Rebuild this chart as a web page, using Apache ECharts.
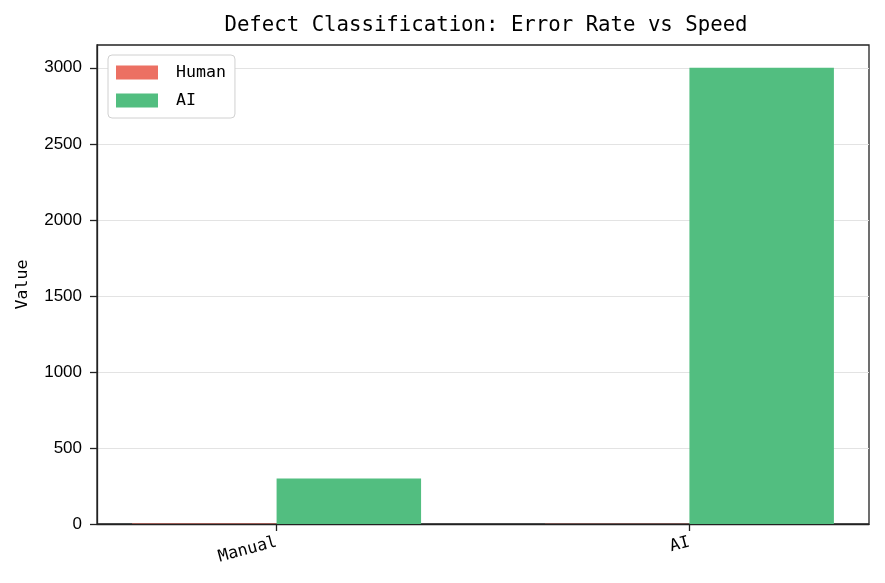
<!DOCTYPE html>
<html><head><meta charset="utf-8">
<script src="https://cdn.jsdelivr.net/npm/echarts@6/dist/echarts.min.js"></script>
<style>html,body{margin:0;padding:0;background:#fff}#c{width:885px;height:583px}</style>
</head><body><div id="c"></div>
<script>
const categories = ['Manual', 'AI'];
const seriesNames = ['Human', 'AI'];
const humanValues = [3, 1];
const aiValues = [300, 3000];
const yTicks = [0, 500, 1000, 1500, 2000, 2500, 3000];

const BW = 0.35;
const mono = 'DejaVu Sans Mono';
function makeSeries(name, values, offset, color) {
  return {
    name: name, type: 'custom',
    itemStyle: { color: color },
    encode: { x: 0, y: 1 },
    data: values.map((v, i) => [i, v]),
    renderItem: function (params, api) {
      const i = api.value(0), v = api.value(1);
      const p0 = api.coord([i + offset, v]);
      const p1 = api.coord([i + offset + BW, 0]);
      return { type: 'rect', shape: { x: p0[0], y: p0[1], width: p1[0] - p0[0], height: p1[1] - p0[1] },
        style: { fill: color } };
    }
  };
}
const chart = echarts.init(document.getElementById('c'));
chart.setOption({
  animation: false,
  title: { text: 'Defect Classification: Error Rate vs Speed', left: 481, textAlign: 'center', top: 10,
    textStyle: { fontFamily: mono, fontSize: 20.7, fontWeight: 'normal', color: '#000' } },
  grid: { left: 97, right: 16, top: 45, bottom: 59, show: true, borderColor: '#222', borderWidth: 1.3, backgroundColor: 'transparent' },
  legend: {
    orient: 'vertical', left: 108, top: 55, data: seriesNames, icon: 'rect',
    itemWidth: 42, itemHeight: 14, itemGap: 11, padding: [9, 9, 9, 8],
    borderColor: '#d0d0d0', borderWidth: 1, borderRadius: 4, backgroundColor: '#fff',
    textStyle: { fontFamily: mono, fontSize: 16.6, color: '#000', padding: [0, 0, 0, 13] }
  },
  xAxis: {
    type: 'value', min: -0.435, max: 1.435,
    splitLine: { show: false },
    axisLine: { onZero: false, lineStyle: { color: '#222', width: 1.3 } },
    axisTick: { show: true, length: 7, customValues: [0, 1], lineStyle: { color: '#222', width: 1.3 } },
    axisLabel: { customValues: [0, 1], formatter: v => categories[Math.round(v)], rotate: 15, margin: 18,
      fontFamily: mono, fontSize: 16.6, color: '#000' }
  },
  yAxis: {
    type: 'value', min: 0, max: 3150, interval: 500,
    name: 'Value', nameLocation: 'middle', nameGap: 66, nameRotate: 90,
    nameTextStyle: { fontFamily: mono, fontSize: 16.6, color: '#000' },
    axisLine: { show: true, onZero: false, lineStyle: { color: '#222', width: 1.3 } },
    axisTick: { show: true, length: 7, customValues: yTicks, lineStyle: { color: '#222', width: 1.3 } },
    axisLabel: { customValues: yTicks, formatter: v => String(v), margin: 15, fontFamily: 'Liberation Sans', fontSize: 17, color: '#000' },
    splitLine: { show: true, lineStyle: { color: '#e3e3e3', width: 1.2 } }
  },
  series: [
    makeSeries('Human', humanValues, -BW, '#EC7063'),
    makeSeries('AI', aiValues, 0, '#52BE80')
  ]
});
</script></body></html>
